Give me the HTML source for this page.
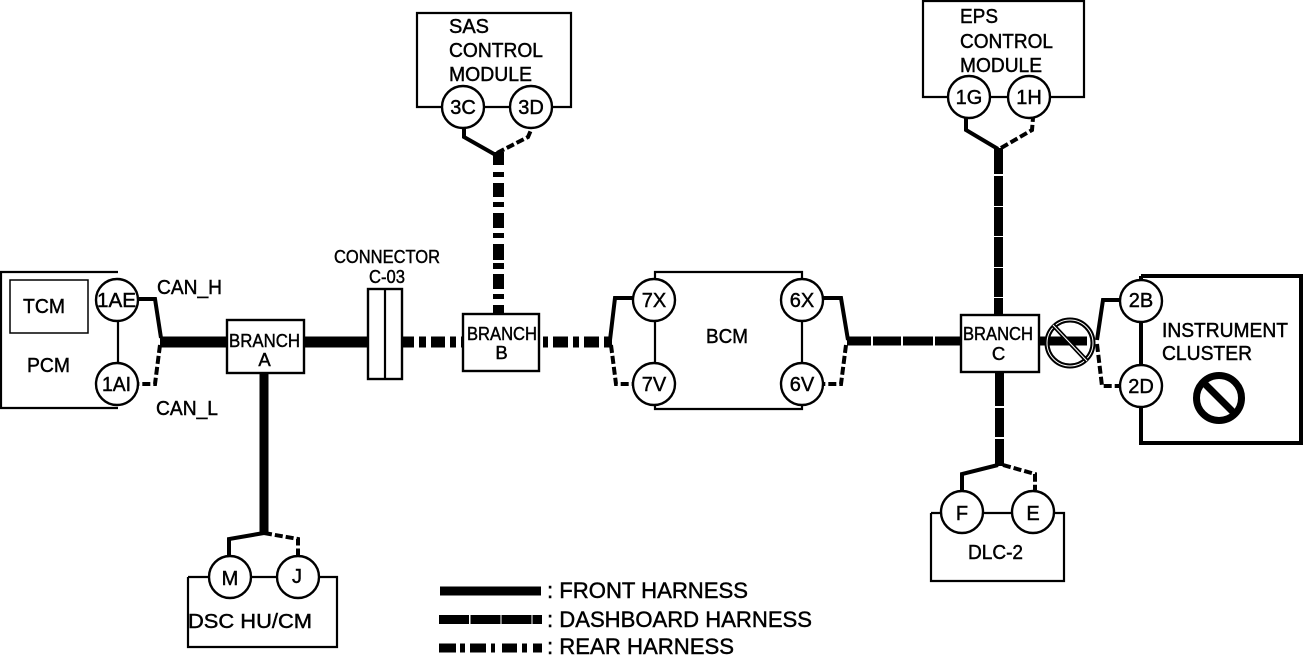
<!DOCTYPE html>
<html>
<head>
<meta charset="utf-8">
<style>
html,body{margin:0;padding:0;background:#fff;}
svg{display:block;}
text{font-family:"Liberation Sans",sans-serif;fill:#000;stroke:#000;stroke-width:.45;}
.n{font-size:20px;}
.b{font-size:18.500px;}
.c{fill:#fff;stroke:#000;stroke-width:2.400;}
.t{fill:none;stroke:#000;stroke-width:2.200;}
.w{fill:none;stroke:#000;stroke-width:4;stroke-linejoin:miter;}
.d{fill:none;stroke:#000;stroke-width:4;stroke-dasharray:8 3;}
</style>
</head>
<body>
<svg width="1305" height="661" viewBox="0 0 1305 661" xmlns="http://www.w3.org/2000/svg">
<rect width="1305" height="661" fill="#fff"/>

<!-- Module outlines -->
<path class="t" d="M118 272H1V408H118M118 300V384"/>
<rect x="10" y="280" width="78" height="53" fill="none" stroke="#000" stroke-width="1.500"/>
<path class="t" d="M463 107H417V13H571V107H531M463 107H531"/>
<path class="t" d="M969 97H923V1H1084V97H1029M969 97H1029"/>
<path class="t" d="M655 300V272H802V300M655 300V384M802 300V384M655 384V409H802V384"/>
<path class="t" d="M188 577V647H337V577H298M188 577H230M230 577H298"/>
<path class="t" d="M931 513V581H1064V513H1033M931 513H962M962 513H1033"/>
<path fill="none" stroke="#000" stroke-width="4" d="M1141 276H1301V443H1141V386M1141 301V276M1141 301V386"/>

<!-- Front harness -->
<path fill="none" stroke="#000" stroke-width="11" d="M160 342H368"/>
<path fill="none" stroke="#000" stroke-width="9" d="M264 373V534"/>
<rect x="440" y="586.500" width="101" height="9"/>

<!-- Rear harness -->
<g fill="#000">
<rect x="402" y="336.500" width="12" height="11"/><rect x="419" y="336.500" width="7" height="11"/><rect x="431" y="336.500" width="14" height="11"/><rect x="450" y="336.500" width="6" height="11"/><rect x="461" y="336.500" width="2" height="11"/>
<rect x="543" y="336.500" width="5" height="11"/><rect x="553" y="336.500" width="15" height="11"/><rect x="573" y="336.500" width="6" height="11"/><rect x="584" y="336.500" width="15" height="11"/><rect x="604" y="336.500" width="8" height="11"/>
<rect x="493" y="152" width="11" height="13"/><rect x="493" y="172" width="11" height="5"/><rect x="493" y="183" width="11" height="14"/><rect x="493" y="202" width="11" height="5"/><rect x="493" y="213" width="11" height="15"/><rect x="493" y="233" width="11" height="5"/><rect x="493" y="244" width="11" height="16"/><rect x="493" y="263" width="11" height="6"/><rect x="493" y="274" width="11" height="15"/><rect x="493" y="294" width="11" height="5"/><rect x="493" y="305" width="11" height="10"/>
<rect x="439" y="643.500" width="17" height="9"/><rect x="460" y="643.500" width="5" height="9"/><rect x="470" y="643.500" width="16" height="9"/><rect x="491" y="643.500" width="4" height="9"/><rect x="502" y="643.500" width="15" height="9"/><rect x="522" y="643.500" width="5" height="9"/><rect x="533" y="643.500" width="9" height="9"/>
</g>

<!-- Dashboard harness -->
<g fill="#000">
<rect x="994" y="148" width="9" height="26"/><rect x="994" y="176" width="9" height="30"/><rect x="994" y="207" width="9" height="29"/><rect x="994" y="237" width="9" height="30"/><rect x="994" y="268" width="9" height="29"/><rect x="994" y="298" width="9" height="18"/>
<rect x="847" y="336.500" width="24" height="9"/><rect x="873" y="336.500" width="28" height="9"/><rect x="903" y="336.500" width="30" height="9"/><rect x="935" y="336.500" width="26" height="9"/>
<rect x="1039" y="336.500" width="48" height="9"/>
<rect x="995" y="372" width="9" height="34"/><rect x="995" y="408" width="9" height="29"/><rect x="995" y="439" width="9" height="27"/>
<rect x="439" y="615" width="30" height="9"/><rect x="470.500" y="615" width="30" height="9"/><rect x="501.500" y="615" width="30" height="9"/><rect x="532.500" y="615" width="9.500" height="9"/>
</g>

<!-- Twisted pair wires -->
<path class="w" d="M139 299H155L161 338"/><path class="d" d="M160 345L155 384H139"/>
<path class="w" d="M464 129V137L494 154"/><path class="d" d="M497 153L528 137L531 130"/>
<path class="w" d="M966 118V130L998 149"/><path class="d" d="M1001 148L1032 130L1033 118"/>
<path class="w" d="M633 298H615L610 340"/><path class="d" d="M611 345L616 384H633"/>
<path class="w" d="M823 298H841L848 340"/><path class="d" d="M846 345L841 384H823"/>
<path class="w" d="M1120 300H1103L1097 340"/><path class="d" d="M1097 344L1102 386H1120"/>
<path class="w" d="M229 556V539L264 533"/><path class="d" d="M264 533L298 539V555"/>
<path class="w" d="M962 491V474L998 465"/><path class="d" d="M1003 465L1035 474V490"/>

<!-- Branch boxes and connector -->
<rect class="c" x="227" y="320" width="77" height="53"/>
<rect class="c" x="463" y="314" width="76" height="57"/>
<rect class="c" x="961" y="315" width="78" height="57"/>
<rect class="c" x="368" y="289" width="34" height="90"/>
<path class="t" d="M385 289V379"/>

<!-- Connector circles -->
<circle class="c" cx="117" cy="300" r="21"/><circle class="c" cx="117" cy="384" r="21"/>
<circle class="c" cx="463" cy="107" r="21"/><circle class="c" cx="531" cy="107" r="21"/>
<circle class="c" cx="969" cy="97" r="21"/><circle class="c" cx="1029" cy="97" r="21"/>
<circle class="c" cx="654" cy="300" r="21"/><circle class="c" cx="654" cy="384" r="21"/>
<circle class="c" cx="802" cy="300" r="21"/><circle class="c" cx="802" cy="384" r="21"/>
<circle class="c" cx="1141" cy="301" r="21"/><circle class="c" cx="1141" cy="386" r="21"/>
<circle class="c" cx="230" cy="577" r="21"/><circle class="c" cx="298" cy="577" r="21"/>
<circle class="c" cx="962" cy="512" r="21"/><circle class="c" cx="1033" cy="512" r="21"/>

<!-- Prohibition symbols -->
<circle cx="1070" cy="343" r="23" fill="none" stroke="#000" stroke-width="5"/>
<circle cx="1070" cy="343" r="23" fill="none" stroke="#fff" stroke-width="1"/>
<path d="M1053 325L1087 361" stroke="#000" stroke-width="4.500" fill="none"/>
<path d="M1053 325L1087 361" stroke="#fff" stroke-width="1" fill="none"/>
<circle cx="1219" cy="398" r="22.500" fill="none" stroke="#000" stroke-width="7"/>
<path d="M1203 382L1235 414" stroke="#000" stroke-width="7" fill="none"/>

<!-- Labels -->
<text class="n" x="23" y="313" textLength="42" lengthAdjust="spacingAndGlyphs">TCM</text>
<text class="n" x="27" y="372" textLength="43" lengthAdjust="spacingAndGlyphs">PCM</text>
<text class="n" x="157" y="294" textLength="65" lengthAdjust="spacingAndGlyphs">CAN_H</text>
<text class="n" x="156" y="415" textLength="62" lengthAdjust="spacingAndGlyphs">CAN_L</text>
<text class="b" x="334" y="263" textLength="106" lengthAdjust="spacingAndGlyphs">CONNECTOR</text>
<text class="b" x="369" y="283" textLength="36" lengthAdjust="spacingAndGlyphs">C-03</text>

<text class="b" x="229" y="347" textLength="71" lengthAdjust="spacingAndGlyphs">BRANCH</text>
<text class="b" x="264.500" y="366" text-anchor="middle">A</text>
<text class="b" x="467" y="340" textLength="70" lengthAdjust="spacingAndGlyphs">BRANCH</text>
<text class="b" x="501.500" y="359" text-anchor="middle">B</text>
<text class="b" x="963" y="340" textLength="70" lengthAdjust="spacingAndGlyphs">BRANCH</text>
<text class="b" x="998.500" y="360" text-anchor="middle">C</text>

<text class="n" x="449" y="33" textLength="40" lengthAdjust="spacingAndGlyphs">SAS</text>
<text class="n" x="449" y="57" textLength="94" lengthAdjust="spacingAndGlyphs">CONTROL</text>
<text class="n" x="449" y="81" textLength="83" lengthAdjust="spacingAndGlyphs">MODULE</text>
<text class="n" x="960" y="23" textLength="38" lengthAdjust="spacingAndGlyphs">EPS</text>
<text class="n" x="960" y="48" textLength="93" lengthAdjust="spacingAndGlyphs">CONTROL</text>
<text class="n" x="960" y="72" textLength="82" lengthAdjust="spacingAndGlyphs">MODULE</text>

<text class="n" x="706" y="343" textLength="42" lengthAdjust="spacingAndGlyphs">BCM</text>
<text class="n" x="1162" y="337" textLength="126" lengthAdjust="spacingAndGlyphs">INSTRUMENT</text>
<text class="n" x="1162" y="360" textLength="90" lengthAdjust="spacingAndGlyphs">CLUSTER</text>
<text class="n" x="188" y="628" textLength="124" lengthAdjust="spacingAndGlyphs">DSC HU/CM</text>
<text class="n" x="968" y="559" textLength="55" lengthAdjust="spacingAndGlyphs">DLC-2</text>

<text class="n" x="97" y="307" textLength="39" lengthAdjust="spacingAndGlyphs">1AE</text>
<text class="n" x="102" y="391" textLength="29" lengthAdjust="spacingAndGlyphs">1AI</text>
<text class="n" x="463" y="114" text-anchor="middle">3C</text>
<text class="n" x="531" y="114" text-anchor="middle">3D</text>
<text class="n" x="969" y="104" text-anchor="middle">1G</text>
<text class="n" x="1029" y="104" text-anchor="middle">1H</text>
<text class="n" x="654" y="307" text-anchor="middle">7X</text>
<text class="n" x="654" y="391" text-anchor="middle">7V</text>
<text class="n" x="802" y="307" text-anchor="middle">6X</text>
<text class="n" x="802" y="391" text-anchor="middle">6V</text>
<text class="n" x="1141" y="307" text-anchor="middle">2B</text>
<text class="n" x="1141" y="393" text-anchor="middle">2D</text>
<text class="n" x="230" y="585" text-anchor="middle">M</text>
<text class="n" x="297" y="583" text-anchor="middle">J</text>
<text class="n" x="962" y="520" text-anchor="middle">F</text>
<text class="n" x="1033" y="520" text-anchor="middle">E</text>

<text style="font-size:22px" x="547" y="598" textLength="201" lengthAdjust="spacingAndGlyphs">: FRONT HARNESS</text>
<text style="font-size:22px" x="547" y="627" textLength="265" lengthAdjust="spacingAndGlyphs">: DASHBOARD HARNESS</text>
<text style="font-size:22px" x="547" y="654" textLength="187" lengthAdjust="spacingAndGlyphs">: REAR HARNESS</text>
</svg>
</body>
</html>
